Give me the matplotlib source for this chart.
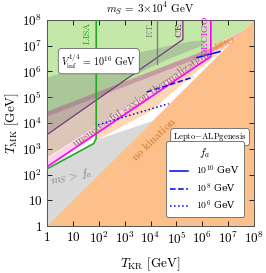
import numpy as np
import matplotlib
matplotlib.use('Agg')
from matplotlib import pyplot as plt
from matplotlib.lines import Line2D

plt.rcParams['mathtext.fontset'] = 'cm'
plt.rcParams['font.family'] = ['DejaVu Serif']

# all coordinates below are log10(T / GeV)
decades = [0, 1, 2, 3, 4, 5, 6, 7, 8]
tick_labels = ['$1$', '$10$', '$10^{2}$', '$10^{3}$', '$10^{4}$', '$10^{5}$', '$10^{6}$', '$10^{7}$', '$10^{8}$']

nokin_x = [0, 8, 8]
nokin_y = [0, 0, 8]
msfa_x = [0, 4.08, 1.93, 1.8, 0]
msfa_y = [0, 4.08, 3.35, 3.2, 2.22]
green_x = [0, 8, 8, 7.6, 6.6, 6.2, 0]
green_y = [8, 8, 8, 7.6, 7.1, 6.85, 4.4]
vinf_x = [0, 1.5, 3.2, 4.5, 5.6, 6.0, 6.1, 6.0, 4.5, 3.2, 0]
vinf_y = [5.76, 6.22, 6.65, 6.95, 7.17, 7.2, 7.12, 7.0, 6.4, 5.76, 3.55]
sax_x = [0, 6.2, 7.36, 0]
sax_y = [4.4, 6.85, 7.36, 2.65]
band_x = [0, 6.2, 6.2, 0]
band_y = [4.45, 6.85, 6.65, 4.25]
pink_x = [0, 7.1, 7.36, 0]
pink_y = [2.3, 7.1, 7.36, 2.62]
red_x = [6.2, 7.6, 7.36, 6.2]
red_y = [6.85, 7.6, 7.36, 6.65]
peach_x = [1.85, 7.05, 3.98, 1.85]
peach_y = [3.55, 7.07, 4.44, 3.3]

lisa_x = [0, 1.8, 1.9, 1.9]
lisa_y = [2.22, 3.2, 3.4, 8]
decigo_x = [0, 6.33, 6.33]
decigo_y = [2.3, 6.58, 8]
ce_x = [0, 5.25, 5.25]
ce_y = [3.55, 7.24, 8]
et_x = [4.25, 4.25]
et_y = [6.3, 8]

fa_labels = ['$10^{10}$ GeV', '$10^{8}$ GeV', '$10^{6}$ GeV']
fa_styles = ['-', '--', ':']
lepto_x = [[5.8, 6.68], [3.85, 5.65], [1.97, 4.7]]
lepto_y = [[6.54, 6.77], [5.2, 5.78], [3.93, 4.75]]


def p(v):
    return 10.0**np.array(v)


fig = plt.figure(figsize=(2.66, 2.73), dpi=100)
ax = fig.add_axes([0.177, 0.172, 0.778, 0.755])
ax.set_xscale('log')
ax.set_yscale('log')

ax.fill(p(nokin_x), p(nokin_y), color='#fdc08a', lw=0, zorder=1)
ax.fill(p(msfa_x), p(msfa_y), color='#d9d9d9', lw=0, zorder=1)
ax.fill(p(peach_x), p(peach_y), color='#fdd8b5', lw=0, zorder=1)
ax.fill(p(green_x), p(green_y), color='#c3e8a8', lw=0, zorder=1)
ax.fill(p(sax_x), p(sax_y), color='#8b4513', alpha=0.3, lw=0, zorder=2)
ax.fill(p(band_x), p(band_y), color='#8b2a6a', alpha=0.28, lw=0, zorder=2)
ax.fill(p(pink_x), p(pink_y), color='#ff99cc', alpha=0.45, lw=0, zorder=2)
ax.fill(p(red_x), p(red_y), color='#f07070', alpha=0.55, lw=0, zorder=2)

ax.plot(p(ce_x), p(ce_y), color='#7a2a8a', lw=0.9, zorder=3)
ax.plot(p(et_x), p(et_y), color='#808080', lw=1.0, zorder=3)
ax.fill(p(vinf_x), p(vinf_y), color='#707070', alpha=0.28, lw=0, zorder=4)
ax.plot(p(lisa_x), p(lisa_y), color='#22aa22', lw=1.2, zorder=5)
ax.plot(p(decigo_x), p(decigo_y), color='#ff00ff', lw=1.2, zorder=5)

for lx, ly, ls in zip(lepto_x, lepto_y, fa_styles):
    ax.plot(p(lx), p(ly), color='#0000ff', ls=ls, lw=1.1, zorder=6)

ax.set_xlim(1, 1e8)
ax.set_ylim(1, 1e8)
ax.set_xticks(p(decades))
ax.set_xticklabels(tick_labels)
ax.set_yticks(p(decades))
ax.set_yticklabels(tick_labels)
ax.tick_params(which='both', direction='in', top=True, right=True, labelsize=9.5)
ax.tick_params(which='major', length=3.5, width=0.6)
ax.tick_params(which='minor', length=2, width=0.5)
for s in ax.spines.values():
    s.set_linewidth(0.7)
    s.set_color('#555555')

ax.set_xlabel(r'$T_{\rm KR}\ [\rm GeV]$', fontsize=9.5, labelpad=6)
ax.set_ylabel(r'$T_{\rm MK}\ [\rm GeV]$', fontsize=9.5, labelpad=1)
ax.set_title(r'$m_S\,=\,3{\times}10^4\ \mathrm{GeV}$', fontsize=8, pad=5)

ax.text(10**1.55, 10**7.5, r'$\mathrm{LISA}$', color='#22aa22', rotation=90, fontsize=7, ha='center', va='center', zorder=7)
ax.text(10**3.98, 10**7.6, r'$\mathrm{ET}$', color='#808080', rotation=90, fontsize=7, ha='center', va='center', zorder=7)
ax.text(10**5.1, 10**7.6, r'$\mathrm{CE}$', color='#800080', rotation=90, fontsize=7, ha='center', va='center', zorder=7)
ax.text(10**6.1, 10**7.35, r'$\mathrm{DECIGO}$', color='#ff00ff', rotation=90, fontsize=7, ha='center', va='center', zorder=7)
ax.text(10**6.85, 10**7.1, r'$\mathrm{BBO}$', color='#ff8c00', rotation=22, fontsize=7, ha='center', va='center', zorder=7)
ax.text(10**2.0, 10**6.4, r'$V_{\rm inf}^{1/4}\,=\,10^{16}\ \mathrm{GeV}$', fontsize=7.2, ha='center', va='center', zorder=7,
        bbox=dict(boxstyle='round,pad=0.3', fc='white', ec='#666666', lw=0.6))
ax.text(10**3.6, 10**4.95, r'$\mathrm{unsuccessful\ saxion\ thermalization}$', color='#8a6a5a', rotation=34, fontsize=7.8,
        ha='center', va='center', zorder=7)
ax.text(10**4.1, 10**3.4, r'$\mathrm{no\ kination}$', color='#c87a30', rotation=44, fontsize=8.2, ha='center', va='center', zorder=7)
ax.text(10**0.95, 10**1.9, r'$m_S\,>\,f_a$', color='#808080', rotation=12, fontsize=8, ha='center', va='center', zorder=7)
ax.text(10**6.3, 10**3.45, r'$\mathrm{Lepto{-}ALPgenesis}$', fontsize=6.2, ha='center', va='center', zorder=7,
        bbox=dict(boxstyle='round,pad=0.3', fc='white', ec='#666666', lw=0.6))

handles = [Line2D([], [], color='#0000ff', ls=ls, lw=1.1) for ls in fa_styles]
leg = ax.legend(handles, fa_labels, title=r'$f_a$', loc='lower right', bbox_to_anchor=(0.975, 0.02),
                fontsize=7, title_fontsize=8, handlelength=1.8, labelspacing=0.4, borderpad=0.5, framealpha=1,
                edgecolor='#666666', fancybox=True)
leg.get_frame().set_linewidth(0.6)
leg.set_zorder(8)

fig.savefig('out.png', dpi=100)
